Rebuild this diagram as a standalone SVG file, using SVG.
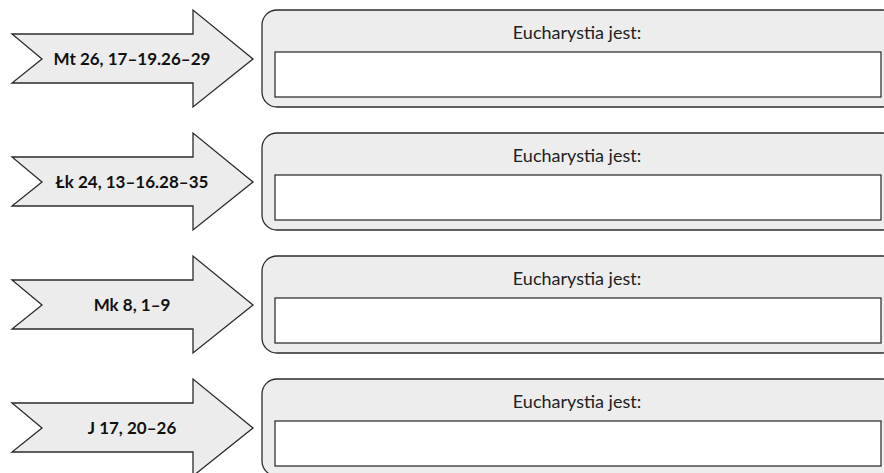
<svg xmlns="http://www.w3.org/2000/svg" width="884" height="473" viewBox="0 0 884 473">
<style>
.arrow{fill:#ececec;stroke:#2b2b2b;stroke-width:1.3;stroke-linejoin:miter}
.box{fill:#ededed;stroke:#2b2b2b;stroke-width:1.3}
.field{fill:#ffffff;stroke:#333333;stroke-width:1.3}
.lbl{font-family:Lato,"Liberation Sans",Arial,sans-serif;font-weight:bold;font-size:17px;fill:#111;text-anchor:middle}
.ttl{font-family:Lato,"Liberation Sans",Arial,sans-serif;font-size:18px;fill:#222;text-anchor:middle}
</style>
<defs>
<polygon id="arr" points="12,34 193,34 193,10 253,59 193,107 193,83 12,83 42,59"/>
</defs>
<rect width="884" height="473" fill="#ffffff"/>
<g id="row1">
<use href="#arr" class="arrow"/>
<text class="lbl" x="132" y="65">Mt 26, 17–19.26–29</text>
<rect class="box" x="262" y="10" width="636" height="97" rx="15"/>
<text class="ttl" x="577" y="39">Eucharystia jest:</text>
<rect class="field" x="275" y="52" width="606" height="45"/>
</g>
<g id="row2" transform="translate(0,123)">
<use href="#arr" class="arrow"/>
<text class="lbl" x="132" y="65">Łk 24, 13–16.28–35</text>
<rect class="box" x="262" y="10" width="636" height="97" rx="15"/>
<text class="ttl" x="577" y="39">Eucharystia jest:</text>
<rect class="field" x="275" y="52" width="606" height="45"/>
</g>
<g id="row3" transform="translate(0,246)">
<use href="#arr" class="arrow"/>
<text class="lbl" x="132" y="65">Mk 8, 1–9</text>
<rect class="box" x="262" y="10" width="636" height="97" rx="15"/>
<text class="ttl" x="577" y="39">Eucharystia jest:</text>
<rect class="field" x="275" y="52" width="606" height="45"/>
</g>
<g id="row4" transform="translate(0,369)">
<use href="#arr" class="arrow"/>
<text class="lbl" x="132" y="65">J 17, 20–26</text>
<rect class="box" x="262" y="10" width="636" height="97" rx="15"/>
<text class="ttl" x="577" y="39">Eucharystia jest:</text>
<rect class="field" x="275" y="52" width="606" height="45"/>
</g>
<g id="connectors"></g>
</svg>
